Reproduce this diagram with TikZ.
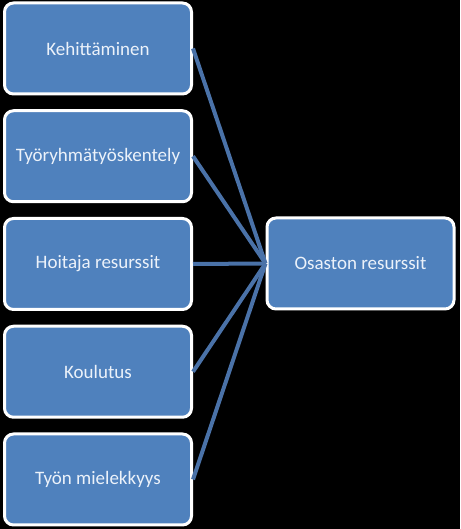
\documentclass[tikz,border=0pt]{standalone}
\usepackage{fontspec}
\setmainfont{Carlito}
\usepackage{tikz}
\usetikzlibrary{positioning, calc}
\definecolor{boxblue}{RGB}{79,129,189}
\definecolor{linkblue}{RGB}{74,114,168}
\definecolor{textcol}{RGB}{236,242,250}

\tikzset{
  resbox/.style={draw=white, line width=3pt, fill=boxblue, rounded corners=9pt,
                 minimum width=187pt, minimum height=91pt, text=textcol,
                 font=\fontsize{19}{22}\selectfont},
  link/.style={linkblue, line width=4pt}
}

\begin{document}
\begin{tikzpicture}[x=1pt, y=1pt]
\useasboundingbox[fill=black] (0,0) rectangle (460,529);
\node[resbox] (osasto) at (360.5, 265.5) {Osaston resurssit};
\foreach \name/\txt [count=\i from 0] in {keh/Kehittäminen, tyo/Työryhmätyöskentely,
    hoi/Hoitaja resurssit, kou/Koulutus, mie/Työn mielekkyys} {
  \node[resbox] (\name) at (98, 480.5-107.75*\i) {\txt};
  \draw[link] (\name.east) -- (osasto.west);
}
\end{tikzpicture}
\end{document}
